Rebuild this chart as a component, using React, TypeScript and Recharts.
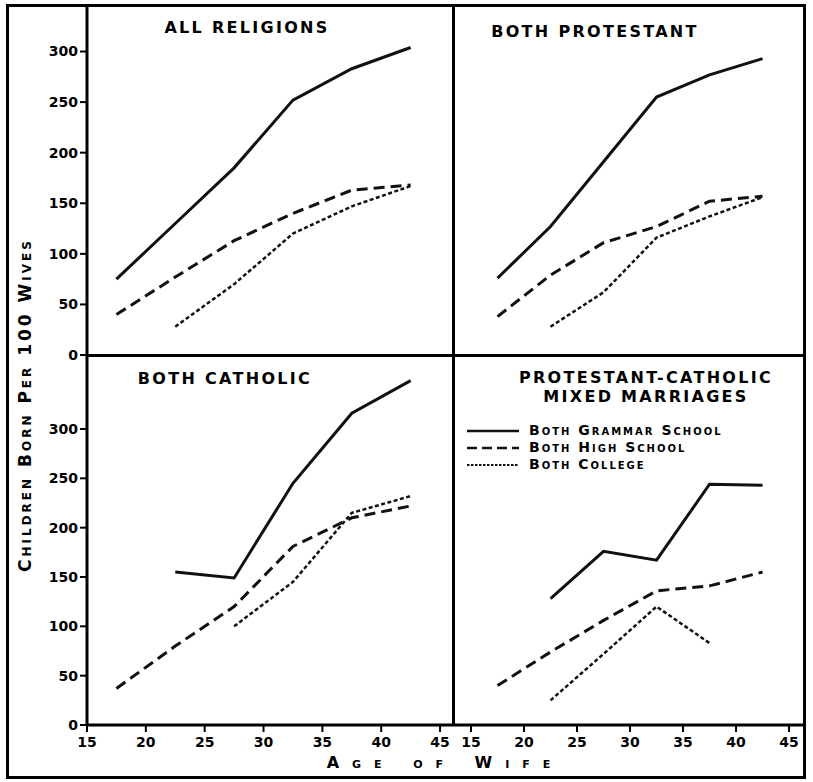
import { LineChart, Line, XAxis, YAxis, Legend } from "recharts";

const ages = [17.5, 22.5, 27.5, 32.5, 37.5, 42.5];

// children born per 100 wives, by schooling of husband and wife
const allGrammar = [75, 130, 185, 252, 283, 304];
const allHigh = [40, 77, 113, 140, 163, 168];
const allCollege = [null, 28, 70, 120, 147, 167];

const protGrammar = [76, 127, 191, 255, 277, 293];
const protHigh = [38, 79, 111, 127, 152, 157];
const protCollege = [null, 28, 62, 116, 137, 156];

const cathGrammar = [null, 155, 149, 245, 316, 349];
const cathHigh = [37, 80, 120, 181, 210, 222];
const cathCollege = [null, null, 100, 145, 215, 232];

const mixedGrammar = [null, 128, 176, 167, 244, 243];
const mixedHigh = [40, 74, 106, 136, 141, 155];
const mixedCollege = [null, 25, 72, 120, 83, null];

const yTicks = [0, 50, 100, 150, 200, 250, 300];
const xTicks = [15, 20, 25, 30, 35, 40, 45];

const SERIES = [
  { key: "grammar", name: "Both Grammar School", width: 3, dash: undefined, legendDash: undefined },
  { key: "high", name: "Both High School", width: 3, dash: "11 6", legendDash: "10 5" },
  { key: "college", name: "Both College", width: 2.5, dash: "4 2.5", legendDash: "2.5 1.5" },
];

type Val = number | null;
const rows = (g: Val[], h: Val[], c: Val[]) =>
  ages.map((age, i) => ({ age, grammar: g[i], high: h[i], college: c[i] }));

const FONT = "'DejaVu Sans', sans-serif";
const tickStyle = { fontSize: 14, fontWeight: 700, fill: "#000", fontFamily: FONT };
const axisLine = { stroke: "#000", strokeWidth: 3 };
const tickLine = { stroke: "#000", strokeWidth: 2 };

const LEFT_X = [15, 46.1];
const RIGHT_X = [13.3, 46.6];
const TOP_Y = [0, 345];
const BOTTOM_Y = [0, 375];

function SeriesLines() {
  return SERIES.map((s) => (
    <Line
      key={s.key}
      dataKey={s.key}
      name={s.name}
      type="linear"
      stroke="#111"
      strokeWidth={s.width}
      strokeDasharray={s.dash}
      dot={false}
      activeDot={false}
      isAnimationActive={false}
    />
  ));
}

function LegendBox() {
  return (
    <div style={{ fontFamily: FONT, fontWeight: 700, fontSize: 14, lineHeight: "17px", fontVariant: "small-caps", letterSpacing: 2 }}>
      {SERIES.map((s) => (
        <div key={s.key} style={{ display: "flex", alignItems: "center", height: 17 }}>
          <svg width={54} height={8} style={{ marginRight: 8 }}>
            <line x1={0} y1={4} x2={52} y2={4} stroke="#111" strokeWidth={s.key === "college" ? 2 : 2.5} strokeDasharray={s.legendDash} />
          </svg>
          <span>{s.name}</span>
        </div>
      ))}
    </div>
  );
}

const titleStyle = (cx: number, top: number) => ({
  position: "absolute" as const,
  left: cx - 160,
  top,
  width: 320,
  textAlign: "center" as const,
  fontFamily: FONT,
  fontWeight: 700,
  fontSize: 16,
  letterSpacing: 2.3,
  lineHeight: "19px",
});

export default function App() {
  return (
    <div style={{ position: "absolute", left: 0, top: 0, width: 813, height: 782, background: "#fff", fontFamily: FONT }}>
      {/* top left: all religions */}
      <div style={{ position: "absolute", left: 27, top: 6 }}>
        <LineChart width={426} height={359} data={rows(allGrammar, allHigh, allCollege)} margin={{ top: 0, right: 0, bottom: 10, left: 0 }}>
          <XAxis dataKey="age" type="number" domain={LEFT_X} allowDataOverflow hide />
          <YAxis type="number" domain={TOP_Y} ticks={yTicks} interval={0} allowDataOverflow width={60}
            axisLine={axisLine} tickLine={tickLine} tickSize={7} tickMargin={2} tick={tickStyle} />
          {SeriesLines()}
        </LineChart>
      </div>

      {/* top right: both protestant */}
      <div style={{ position: "absolute", left: 453, top: 6 }}>
        <LineChart width={353} height={349} data={rows(protGrammar, protHigh, protCollege)} margin={{ top: 0, right: 0, bottom: 0, left: 0 }}>
          <XAxis dataKey="age" type="number" domain={RIGHT_X} allowDataOverflow hide />
          <YAxis type="number" domain={TOP_Y} allowDataOverflow hide />
          {SeriesLines()}
        </LineChart>
      </div>

      {/* bottom left: both catholic */}
      <div style={{ position: "absolute", left: 27, top: 355 }}>
        <LineChart width={426} height={420} data={rows(cathGrammar, cathHigh, cathCollege)} margin={{ top: 0, right: 0, bottom: 0, left: 0 }}>
          <XAxis dataKey="age" type="number" domain={LEFT_X} ticks={xTicks} interval={0} allowDataOverflow height={50}
            axisLine={axisLine} tickLine={tickLine} tickSize={7} tickMargin={5} tick={tickStyle} />
          <YAxis type="number" domain={BOTTOM_Y} ticks={yTicks} interval={0} allowDataOverflow width={60}
            axisLine={axisLine} tickLine={tickLine} tickSize={7} tickMargin={2} tick={tickStyle} />
          {SeriesLines()}
        </LineChart>
      </div>

      {/* bottom right: mixed marriages */}
      <div style={{ position: "absolute", left: 453, top: 355 }}>
        <LineChart width={353} height={420} data={rows(mixedGrammar, mixedHigh, mixedCollege)} margin={{ top: 0, right: 0, bottom: 0, left: 0 }}>
          <XAxis dataKey="age" type="number" domain={RIGHT_X} ticks={xTicks} interval={0} allowDataOverflow height={50}
            axisLine={axisLine} tickLine={tickLine} tickSize={7} tickMargin={5} tick={tickStyle} />
          <YAxis type="number" domain={BOTTOM_Y} allowDataOverflow hide />
          {SeriesLines()}
          <Legend layout="vertical" align="center" verticalAlign="middle" content={LegendBox}
            wrapperStyle={{ left: 14, top: 67, width: 330 }} />
        </LineChart>
      </div>

      {/* frame and dividers */}
      <div style={{ position: "absolute", left: 6, top: 4, width: 800, height: 775, border: "3px solid #000", boxSizing: "border-box" }} />
      <div style={{ position: "absolute", left: 87, top: 354, width: 719, height: 3, background: "#000" }} />
      <div style={{ position: "absolute", left: 452, top: 6, width: 3, height: 720, background: "#000" }} />

      {/* panel titles */}
      <div style={titleStyle(247, 18)}>ALL RELIGIONS</div>
      <div style={titleStyle(595, 22)}>BOTH PROTESTANT</div>
      <div style={titleStyle(225, 369)}>BOTH CATHOLIC</div>
      <div style={titleStyle(646, 368)}>PROTESTANT-CATHOLIC<br />MIXED MARRIAGES</div>

      {/* axis labels */}
      <div style={{
        position: "absolute", left: 25 - 200, top: 405 - 11, width: 400, height: 22, textAlign: "center",
        transform: "rotate(-90deg)", fontWeight: 700, fontSize: 17, fontVariant: "small-caps", letterSpacing: 3, lineHeight: "22px",
      }}>
        Children Born Per 100 Wives
      </div>
      <div style={{
        position: "absolute", left: 445 - 200, top: 753, width: 400, textAlign: "center",
        fontWeight: 700, fontSize: 16, fontVariant: "small-caps", letterSpacing: 13, lineHeight: "20px",
      }}>
        Age of Wife
      </div>
    </div>
  );
}
